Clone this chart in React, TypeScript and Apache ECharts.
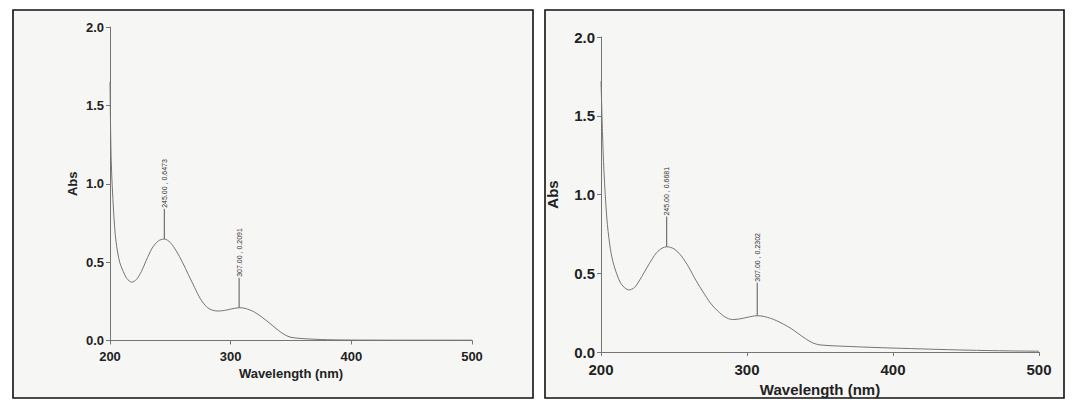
import React, { useEffect, useRef } from "react";
import * as echarts from "echarts";

// Left spectrum
const wavelengthsA = [200, 201, 203, 205, 208, 211, 214, 218, 222, 226, 230, 235, 240, 245, 250, 255, 260, 265, 270, 275, 280, 285, 290, 295, 300, 307, 312, 320, 330, 335, 340, 345, 350, 360, 380, 400, 450, 500];
const absA = [1.65, 1.15, 0.82, 0.63, 0.5, 0.44, 0.395, 0.372, 0.39, 0.44, 0.51, 0.59, 0.635, 0.6473, 0.625, 0.57, 0.5, 0.42, 0.34, 0.265, 0.215, 0.193, 0.188, 0.192, 0.2, 0.2091, 0.205, 0.18, 0.125, 0.093, 0.062, 0.036, 0.02, 0.012, 0.005, 0.003, 0.002, 0.002];
const peakXA = [245, 307];
const peakYA = [0.6473, 0.2091];
const peakTopA = [0.84, 0.4];
const peakLabelsA = ["245.00 , 0.6473", "307.00 , 0.2091"];

// Right spectrum
const wavelengthsB = [200, 201, 202, 204, 206, 208, 211, 214, 219, 223, 228, 233, 238, 242, 245, 250, 255, 260, 265, 270, 275, 280, 285, 290, 295, 300, 307, 312, 320, 330, 340, 345, 350, 370, 400, 450, 480, 500];
const absB = [1.72, 1.4, 1.15, 0.85, 0.68, 0.58, 0.49, 0.43, 0.394, 0.41, 0.48, 0.56, 0.63, 0.66, 0.6681, 0.655, 0.61, 0.54, 0.455, 0.38, 0.31, 0.26, 0.222, 0.206, 0.21, 0.22, 0.2302, 0.225, 0.2, 0.15, 0.085, 0.058, 0.045, 0.035, 0.025, 0.012, 0.007, 0.005];
const peakXB = [245, 307];
const peakYB = [0.6681, 0.2302];
const peakTopB = [0.86, 0.44];
const peakLabelsB = ["245.00 , 0.6681", "307.00 , 0.2302"];

const xTicks = [200, 300, 400, 500];
const yTicks = [0, 0.5, 1.0, 1.5, 2.0];

const FONT = "'Liberation Sans', Arial, sans-serif";
const LINE = "#757575";

function makeAxes(idx: number, fs: number, xGap: number, yGap: number, xMargin: number) {
  const xAxis = {
    type: "value",
    gridIndex: idx,
    min: xTicks[0],
    max: xTicks[xTicks.length - 1],
    interval: 100,
    name: "Wavelength (nm)",
    nameLocation: "middle",
    nameGap: xGap,
    nameTextStyle: { fontFamily: FONT, fontWeight: "bold", fontSize: fs, color: "#222" },
    axisLine: { show: true, onZero: false, lineStyle: { color: LINE, width: 1 } },
    axisTick: { show: true, length: 4, lineStyle: { color: LINE } },
    axisLabel: { fontFamily: FONT, fontWeight: "bold", fontSize: fs, color: "#222", margin: xMargin },
    splitLine: { show: false },
  };
  const yAxis = {
    type: "value",
    gridIndex: idx,
    min: yTicks[0],
    max: yTicks[yTicks.length - 1],
    interval: 0.5,
    name: "Abs",
    nameLocation: "middle",
    nameGap: yGap,
    nameTextStyle: { fontFamily: FONT, fontWeight: "bold", fontSize: fs, color: "#222" },
    axisLine: { show: true, lineStyle: { color: LINE, width: 1 } },
    axisTick: { show: true, length: 4, lineStyle: { color: LINE } },
    axisLabel: {
      fontFamily: FONT,
      fontWeight: "bold",
      fontSize: fs,
      color: "#222",
      margin: 6,
      formatter: (v: number) => v.toFixed(1),
    },
    splitLine: { show: false },
  };
  return { xAxis, yAxis };
}

function peakRender(labels: string[]) {
  return (params: any, api: any) => {
    const x = api.value(0);
    const y = api.value(1);
    const top = api.value(2);
    const p0 = api.coord([x, y]);
    const p1 = api.coord([x, top]);
    return {
      type: "group",
      children: [
        {
          type: "line",
          shape: { x1: p0[0], y1: p0[1], x2: p1[0], y2: p1[1] },
          style: { stroke: "#555", lineWidth: 1 },
        },
        {
          type: "text",
          x: p1[0],
          y: p1[1] - 1,
          rotation: Math.PI / 2,
          style: {
            text: labels[params.dataIndex],
            fontFamily: FONT,
            fontSize: 7,
            fill: "#333",
            align: "left",
            verticalAlign: "middle",
          },
        },
      ],
    };
  };
}

export default function App() {
  const ref = useRef<HTMLDivElement>(null);
  useEffect(() => {
    if (!ref.current) return;
    const chart = echarts.init(ref.current, undefined, { renderer: "svg" });
    const a = makeAxes(0, 13, 26, 31, 9);
    const b = makeAxes(1, 15, 24, 41, 10);
    chart.setOption({
      animation: false,
      backgroundColor: "#ffffff",
      grid: [
        { left: 110, right: 605, top: 27, bottom: 66.5 },
        { left: 601, right: 38, top: 37, bottom: 55 },
      ],
      xAxis: [a.xAxis, b.xAxis],
      yAxis: [a.yAxis, b.yAxis],
      graphic: [
        {
          type: "rect",
          z: -10,
          shape: { x: 13, y: 10, width: 520, height: 388 },
          style: { fill: "#f6f6f5", stroke: "#111", lineWidth: 1.6 },
        },
        {
          type: "rect",
          z: -10,
          shape: { x: 545, y: 10, width: 519, height: 388 },
          style: { fill: "#f6f6f5", stroke: "#111", lineWidth: 1.6 },
        },
      ],
      series: [
        {
          type: "line",
          xAxisIndex: 0,
          yAxisIndex: 0,
          data: wavelengthsA.map((w, i) => [w, absA[i]]),
          showSymbol: false,
          smooth: 0.3,
          lineStyle: { color: LINE, width: 1 },
        },
        {
          type: "line",
          xAxisIndex: 1,
          yAxisIndex: 1,
          data: wavelengthsB.map((w, i) => [w, absB[i]]),
          showSymbol: false,
          smooth: 0.3,
          lineStyle: { color: LINE, width: 1 },
        },
        {
          type: "custom",
          xAxisIndex: 0,
          yAxisIndex: 0,
          clip: false,
          encode: { x: 0, y: 1 },
          data: peakXA.map((x, i) => [x, peakYA[i], peakTopA[i]]),
          renderItem: peakRender(peakLabelsA),
        },
        {
          type: "custom",
          xAxisIndex: 1,
          yAxisIndex: 1,
          clip: false,
          encode: { x: 0, y: 1 },
          data: peakXB.map((x, i) => [x, peakYB[i], peakTopB[i]]),
          renderItem: peakRender(peakLabelsB),
        },
      ],
    });
    return () => chart.dispose();
  }, []);
  return (
    <div
      ref={ref}
      style={{ position: "absolute", left: 0, top: 0, width: 1077, height: 407 }}
    />
  );
}
